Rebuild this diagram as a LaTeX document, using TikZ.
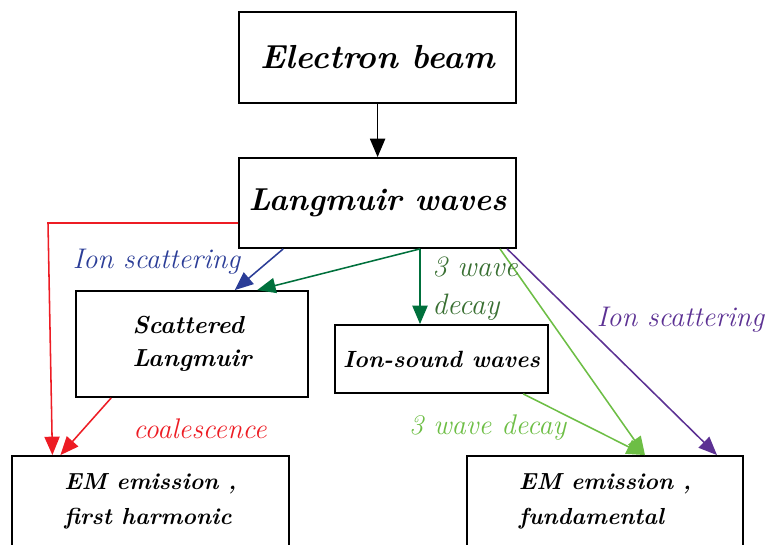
\documentclass[tikz,border=0pt]{standalone}
\usepackage{tikz}
\usetikzlibrary{positioning, arrows.meta}

\definecolor{emred}{RGB}{237,28,36}
\definecolor{ionblue}{RGB}{43,61,151}
\definecolor{decaygreen}{RGB}{0,112,60}
\definecolor{decaytext}{RGB}{58,112,51}
\definecolor{fundgreen}{RGB}{109,190,69}
\definecolor{ionpurple}{RGB}{92,49,147}

\begin{document}
\begin{tikzpicture}[
        box/.style={draw, line width=1.3pt, align=left, inner sep=0pt,
            font=\fontsize{16.5}{24.5}\selectfont\bfseries\itshape},
        bigbox/.style={box, font=\fontsize{22.5}{26}\selectfont\bfseries\itshape},
        lbl/.style={font=\fontsize{20.2}{27}\selectfont\itshape, inner sep=0pt},
        arr/.style={line width=1.1pt, -{Triangle[length=4.6mm,width=3.8mm]}}
    ]
            \useasboundingbox (0,0) rectangle (19.125,13.625);

            \node[bigbox, minimum width=6.925cm, minimum height=2.275cm, font=\fontsize{23.7}{26}\selectfont\bfseries\itshape] (beam) at (9.44,12.19) {Electron beam};
            \node[bigbox, minimum width=6.925cm, minimum height=2.25cm] (lang) at (9.44,8.55) {Langmuir waves};
            \node[box, minimum width=5.8cm, minimum height=2.65cm, font=\fontsize{17.5}{23.4}\selectfont\bfseries\itshape] (scat) at (4.8,5.025) {Scattered\\Langmuir};
            \node[box, minimum width=5.325cm, minimum height=1.7cm, font=\fontsize{16.7}{20}\selectfont\bfseries\itshape] (ion) at (11.04,4.65) {Ion-sound waves};
            \node[box, minimum width=6.925cm, minimum height=2.275cm] (em1) at (3.76,1.0875) {EM emission ,\\first harmonic};
            \node[box, minimum width=6.9cm, minimum height=2.275cm] (em2) at (15.125,1.0875) {EM emission ,\\fundamental};

            % Draw edges
            \draw[arr] (beam) -- (lang);

            \coordinate (rc) at (1.2,8.05);
            \draw[arr, emred] ([yshift=-5mm]lang.west) -- (rc) -- ([xshift=-2.45cm]em1.north);
            \draw[arr, emred] ([xshift=-2.02cm]scat.south) -- ([xshift=-2.25cm]em1.north);

            \draw[arr, ionblue] ([xshift=-2.36cm]lang.south) -- ([xshift=1.07cm]scat.north);
            \draw[arr, decaygreen] ([xshift=1.06cm]lang.south) -- ([xshift=1.63cm]scat.north);
            \draw[arr, decaygreen] ([xshift=1.06cm]lang.south) -- ([xshift=-0.54cm]ion.north);

            \draw[arr, fundgreen] ([xshift=3.06cm]lang.south) -- ([xshift=1.0cm]em2.north);
            \draw[arr, fundgreen] ([xshift=2.04cm]ion.south) -- ([xshift=1.0cm]em2.north);
            \draw[arr, ionpurple] ([xshift=3.24cm]lang.south) -- ([xshift=2.8cm]em2.north);

            % Process labels
            \node[lbl, ionblue] (l1) at (3.91,7.075) {Ion scattering};
            \node[lbl, emred] (l2) at (5.0,2.9) {coalescence};
            \node[lbl, decaytext, align=left, anchor=west, font=\fontsize{21}{27}\selectfont\itshape] (l3) at (10.8,6.4) {3 wave\\decay};
            \node[lbl, fundgreen] (l4) at (12.19,2.925) {3 wave decay};
            \node[lbl, ionpurple] (l5) at (17.01,5.625) {Ion scattering};
        \end{tikzpicture}
\end{document}
